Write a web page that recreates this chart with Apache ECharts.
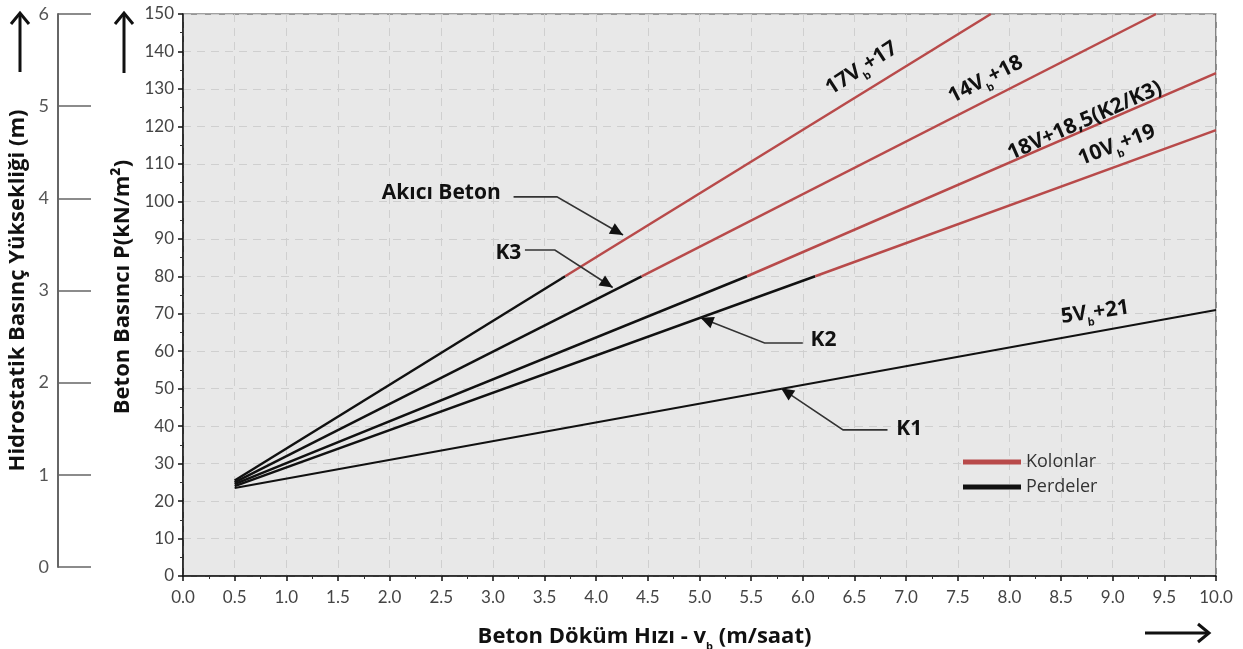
<!DOCTYPE html>
<html>
<head>
<meta charset="utf-8">
<script src="https://cdn.jsdelivr.net/npm/echarts@6/dist/echarts.min.js"></script>
<style>
  html, body { margin: 0; padding: 0; background: #fff; }
  #main { width: 1243px; height: 649px; }
</style>
</head>
<body>
<div id="main"></div>
<script>
// Perdeler (siyah) ve Kolonlar (kırmızı) doğruları, grafikten okunan noktalar
var perdeK1 = [[0.5, 23.5], [10, 71]];
var perde17 = [[0.5, 25.5], [3.7, 80]];
var kolon17 = [[3.7, 80], [7.82, 150]];
var perde14 = [[0.5, 25], [4.44, 80]];
var kolon14 = [[4.44, 80], [9.42, 150]];
var perde18 = [[0.5, 24.5], [5.46, 80]];
var kolon18 = [[5.46, 80], [10, 134.2]];
var perde10 = [[0.5, 24], [6.12, 80]];
var kolon10 = [[6.12, 80], [10, 119]];

var xTicks = ['0.0','0.5','1.0','1.5','2.0','2.5','3.0','3.5','4.0','4.5','5.0','5.5','6.0','6.5','7.0','7.5','8.0','8.5','9.0','9.5','10.0'];

// etiketler ve oklar (veri koordinatlarında)
var leaderText = [
  { name: 'Akıcı Beton', pos: [2.5, 102.3] },
  { name: 'K3', pos: [3.15, 86.2] },
  { name: 'K2', pos: [6.2, 63] },
  { name: 'K1', pos: [7.03, 39.2] }
];
var leaderLines = [
  [[3.2, 101.2], [3.62, 101.2], [4.26, 91]],
  [[3.31, 87], [3.6, 87], [4.16, 77]],
  [[6.0, 62.2], [5.63, 62.2], [5.01, 68.9]],
  [[6.82, 39], [6.39, 39], [5.79, 50.1]]
];
var formulaText = [
  { main: '17V', tail: '+17', pos: [6.57, 135.5], rot: 33 },
  { main: '14V', tail: '+18', pos: [7.77, 132.5], rot: 27 },
  { main: '18V+18,5(K2/K3)', tail: '', pos: [8.73, 121.5], rot: 24, plain: true },
  { main: '10V', tail: '+19', pos: [9.04, 115], rot: 21 },
  { main: '5V', tail: '+21', pos: [8.83, 70.4], rot: 8 }
];

var RED = '#b84a4a';
var BLACK = '#111';
var TXT = '#111';
var FONT = 'Open Sans';

var chart = echarts.init(document.getElementById('main'));

function seg(name, data, color, w) {
  return {
    name: name, type: 'line', data: data, symbol: 'none',
    xAxisIndex: 0, yAxisIndex: 0,
    lineStyle: { color: color, width: w }, itemStyle: { color: color },
    silent: true, z: 3
  };
}

var richSub = {
  a: { fontSize: 21, fontWeight: 'bold', color: TXT, fontFamily: FONT, lineHeight: 26 },
  b: { fontSize: 11, fontWeight: 'bold', color: TXT, fontFamily: FONT, lineHeight: 26, padding: [19, 0, 0, 0] }
};

var series = [
  seg('Perdeler', perdeK1, BLACK, 2),
  seg('Perdeler', perde17, BLACK, 2.5),
  seg('Perdeler', perde14, BLACK, 2.5),
  seg('Perdeler', perde18, BLACK, 2.5),
  seg('Perdeler', perde10, BLACK, 2.5),
  seg('Kolonlar', kolon17, RED, 2.5),
  seg('Kolonlar', kolon14, RED, 2.5),
  seg('Kolonlar', kolon18, RED, 2.5),
  seg('Kolonlar', kolon10, RED, 2.5),
  {
    type: 'lines', coordinateSystem: 'cartesian2d', polyline: true,
    xAxisIndex: 0, yAxisIndex: 0, silent: true, z: 4,
    lineStyle: { color: '#333', width: 1.6, opacity: 1 },
    data: leaderLines.map(function (c) { return { coords: c }; })
  },
  {
    type: 'scatter', xAxisIndex: 0, yAxisIndex: 0, symbolSize: 0, silent: true, z: 5,
    itemStyle: { opacity: 1 },
    label: {
      show: true, position: 'inside', color: TXT, fontSize: 21, fontWeight: 'bold',
      fontFamily: FONT, formatter: function (p) { return p.name; }
    },
    data: leaderText.map(function (t) { return { name: t.name, value: t.pos }; })
  },
  {
    type: 'scatter', xAxisIndex: 0, yAxisIndex: 0, symbolSize: 0, silent: true, z: 5,
    itemStyle: { opacity: 1 },
    data: formulaText.map(function (t) {
      return {
        value: t.pos,
        label: {
          show: true, position: 'inside', rotate: t.rot, rich: richSub, color: TXT,
          formatter: t.plain ? '{a|' + t.main + '}' : '{a|' + t.main + '}{b|b}{a|' + t.tail + '}'
        }
      };
    })
  },
  // ikinci eksen için boş seri
  { type: 'line', xAxisIndex: 1, yAxisIndex: 1, data: [], silent: true }
];

var arrows = [
  { type: 'line', shape: { x1: 20, y1: 14, x2: 20, y2: 72 }, style: { stroke: '#111', lineWidth: 3 } },
  { type: 'polyline', shape: { points: [[11, 24], [20, 13], [29, 24]] }, style: { stroke: '#111', lineWidth: 3, fill: null } },
  { type: 'line', shape: { x1: 124, y1: 14, x2: 124, y2: 73 }, style: { stroke: '#111', lineWidth: 3 } },
  { type: 'polyline', shape: { points: [[115, 24], [124, 13], [133, 24]] }, style: { stroke: '#111', lineWidth: 3, fill: null } },
  { type: 'line', shape: { x1: 1145, y1: 633, x2: 1208, y2: 633 }, style: { stroke: '#111', lineWidth: 3 } },
  { type: 'polyline', shape: { points: [[1198, 624], [1209, 633], [1198, 642]] }, style: { stroke: '#111', lineWidth: 3, fill: null } }
];

chart.setOption({
  animation: false,
  backgroundColor: '#fff',
  textStyle: { fontFamily: 'Lato' },
  grid: [
    { left: 183, right: 27, top: 14, bottom: 73, show: true, backgroundColor: '#e8e8e8', borderColor: '#444', borderWidth: 1.2, outerBoundsMode: 'none' },
    { left: 58, width: 1, top: 14, bottom: 82, show: false, outerBoundsMode: 'none' }
  ],
  legend: {
    data: ['Kolonlar', 'Perdeler'], orient: 'vertical', left: 958, top: 448,
    icon: 'rect', itemWidth: 58, itemHeight: 5, itemGap: 7,
    textStyle: { fontSize: 18, color: '#333', fontFamily: FONT },
    selectedMode: false
  },
  xAxis: [
    {
      type: 'value', gridIndex: 0, min: 0, max: 10, interval: 0.5,
      axisLine: { lineStyle: { color: '#111', width: 1.5 } },
      axisTick: { show: true, length: 5, lineStyle: { color: '#111', width: 1.5 } },
      minorTick: { show: true, splitNumber: 2, length: 3, lineStyle: { color: '#333' } },
      axisLabel: {
        fontSize: 17, color: '#444', margin: 13, fontFamily: 'Lato',
        formatter: function (v) { return xTicks[Math.round(v * 2)]; }
      },
      splitLine: { show: true, lineStyle: { color: '#cfcfcf', type: [8, 6], width: 1 } },
      name: 'Beton Döküm Hızı - {b|v}{s|b} (m/saat)',
      nameLocation: 'middle', nameGap: 48,
      nameTextStyle: {
        fontSize: 22, fontWeight: 'bold', color: TXT, fontFamily: FONT, padding: [0, 110, 0, 0],
        rich: {
          b: { fontSize: 22, fontWeight: 'bold', color: TXT, fontFamily: FONT, lineHeight: 26 },
          s: { fontSize: 11, fontWeight: 'bold', color: TXT, fontFamily: FONT, lineHeight: 26, padding: [19, 0, 0, 0] }
        }
      }
    },
    { type: 'value', gridIndex: 1, show: false, min: 0, max: 1 }
  ],
  yAxis: [
    {
      type: 'value', gridIndex: 0, min: 0, max: 150, interval: 10,
      axisLine: { show: true, lineStyle: { color: '#111', width: 1.5 } },
      axisTick: { show: true, length: 5, lineStyle: { color: '#111', width: 1.5 } },
      minorTick: { show: true, splitNumber: 2, length: 3, lineStyle: { color: '#333' } },
      axisLabel: { fontSize: 17, color: '#444', margin: 9, fontFamily: 'Lato' },
      splitLine: { show: true, lineStyle: { color: '#cfcfcf', type: [8, 6], width: 1 } },
      name: 'Beton Basıncı P(kN/m²)', nameLocation: 'middle', nameGap: 44,
      nameTextStyle: { fontSize: 22, fontWeight: 'bold', color: TXT, fontFamily: FONT, padding: [0, 0, 0, 16] }
    },
    {
      type: 'value', gridIndex: 1, min: 0, max: 6, interval: 1, position: 'left',
      axisLine: { show: true, lineStyle: { color: '#666', width: 2 } },
      axisTick: { show: true, inside: true, length: 33, lineStyle: { color: '#666', width: 1.5 } },
      axisLabel: { fontSize: 18, color: '#555', margin: 9, fontFamily: 'Lato' },
      splitLine: { show: false },
      name: 'Hidrostatik Basınç Yüksekliği (m)', nameLocation: 'middle', nameGap: 29,
      nameTextStyle: { fontSize: 22, fontWeight: 'bold', color: TXT, fontFamily: FONT }
    }
  ],
  graphic: arrows,
  series: series
});

// ok uçları: son parçanın yönüne göre üçgen
var heads = leaderLines.map(function (c) {
  var a = chart.convertToPixel({ gridIndex: 0 }, c[c.length - 2]);
  var b = chart.convertToPixel({ gridIndex: 0 }, c[c.length - 1]);
  var ang = Math.atan2(b[1] - a[1], b[0] - a[0]);
  var L = 13, W = 6;
  var bx = b[0] - L * Math.cos(ang), by = b[1] - L * Math.sin(ang);
  var nx = -Math.sin(ang) * W, ny = Math.cos(ang) * W;
  return {
    type: 'polygon', z: 10,
    shape: { points: [[b[0], b[1]], [bx + nx, by + ny], [bx - nx, by - ny]] },
    style: { fill: '#111' }
  };
});
chart.setOption({ graphic: arrows.concat(heads) });
</script>
</body>
</html>
